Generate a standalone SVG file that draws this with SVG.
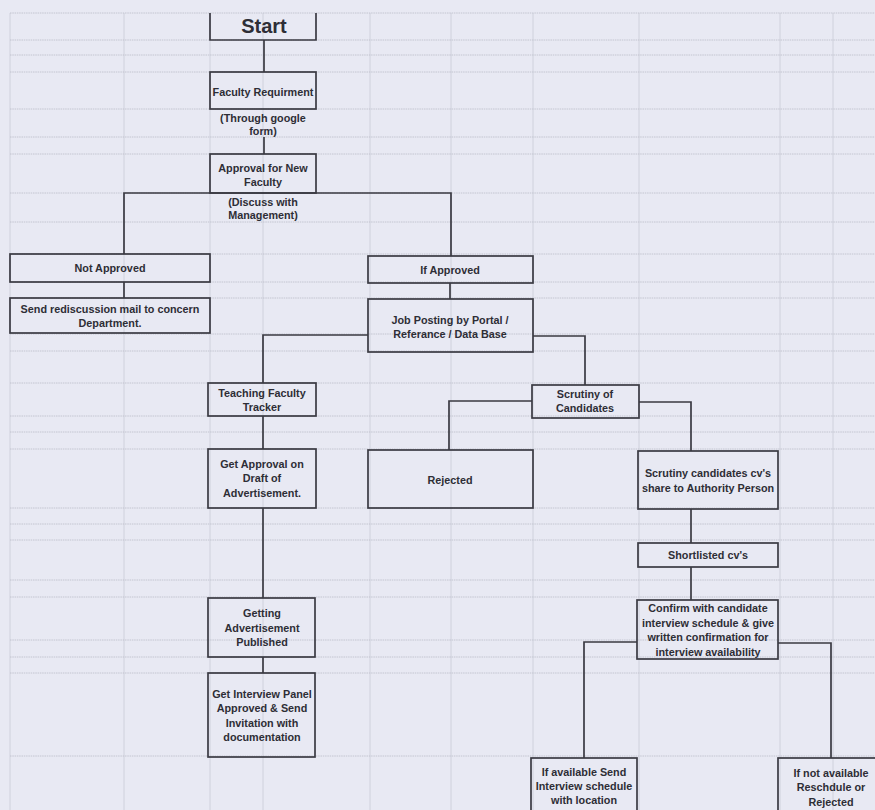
<svg xmlns="http://www.w3.org/2000/svg" width="875" height="810" viewBox="0 0 875 810">
<defs>
<style>
.bg{fill:#e8e9f3}
.gv{stroke:#c9cad5;stroke-width:0.8;fill:none}
.gh{stroke:#c0c1cd;stroke-width:0.9;fill:none;stroke-dasharray:1.5 0.8}
.box{fill:none;stroke:#3a3a42;stroke-width:1.7}
.con{fill:none;stroke:#3a3a42;stroke-width:1.7}
.t{font-family:"Liberation Sans",Arial,sans-serif;font-weight:bold;font-size:10.8px;fill:#2e2e36;text-anchor:middle}
.big{font-size:20px}
</style>
</defs>
<rect class="bg" x="0" y="0" width="875" height="810"/>
<g id="grid">
<path class="gv" d="M10,13V810M124,13V810M210,13V810M263,13V810M370,13V810M451,13V810M533,13V810M639,13V810M780,13V810M833,13V810"/>
<path class="gh" d="M10,13H875M10,40H875M10,55H875M10,72H875M10,109H875M10,137H875M10,154H875M10,193H875M10,222H875M10,254H875M10,282H875M10,298H875M10,334H875M10,351H875M10,383H875M10,416H875M10,432H875M10,449H875M10,508H875M10,524H875M10,540H875M10,580H875M10,597H875M10,640H875M10,657H875M10,673H875M10,756H875"/>
</g>
<g id="connectors">
<path class="con" d="M264,40V72"/>
<path class="con" d="M264,137V154"/>
<path class="con" d="M124,254V193H451V256"/>
<path class="con" d="M124,282V298"/>
<path class="con" d="M450,283V299"/>
<path class="con" d="M368,335H263V383"/>
<path class="con" d="M533,336H585V385"/>
<path class="con" d="M263,416V449"/>
<path class="con" d="M263,508V598"/>
<path class="con" d="M263,657V673"/>
<path class="con" d="M532,401H449V450"/>
<path class="con" d="M639,402H691V451"/>
<path class="con" d="M691,509V543"/>
<path class="con" d="M691,567V600"/>
<path class="con" d="M637,642H584V758"/>
<path class="con" d="M778,643H831V758"/>
</g>
<g id="start">
<path class="box" d="M210,13V40H316V13"/>
<text class="t big" x="264" y="33">Start</text>
</g>
<g id="faculty-requirement">
<rect class="box" x="210" y="72" width="106" height="37"/>
<text class="t" x="263" y="95.5">Faculty Requirment</text>
<text class="t" x="263" y="121.5">(Through google</text>
<text class="t" x="263" y="134.5">form)</text>
</g>
<g id="approval">
<rect class="box" x="210" y="154" width="106" height="39"/>
<text class="t" x="263" y="171.5">Approval for New</text>
<text class="t" x="263" y="185.5">Faculty</text>
<text class="t" x="263" y="205.5">(Discuss with</text>
<text class="t" x="263" y="218.5">Management)</text>
</g>
<g id="not-approved">
<rect class="box" x="10" y="254" width="200" height="28"/>
<text class="t" x="110" y="271.5">Not Approved</text>
</g>
<g id="rediscussion">
<rect class="box" x="10" y="298" width="200" height="35"/>
<text class="t" x="110" y="312.5">Send rediscussion mail to concern</text>
<text class="t" x="110" y="326.5">Department.</text>
</g>
<g id="if-approved">
<rect class="box" x="368" y="256" width="165" height="27"/>
<text class="t" x="450" y="273.5">If Approved</text>
</g>
<g id="job-posting">
<rect class="box" x="368" y="299" width="165" height="53"/>
<text class="t" x="450" y="323.5">Job Posting by Portal /</text>
<text class="t" x="450" y="337.5">Referance / Data Base</text>
</g>
<g id="teaching-tracker">
<rect class="box" x="208" y="383" width="108" height="33"/>
<text class="t" x="262" y="396.5">Teaching Faculty</text>
<text class="t" x="262" y="410.5">Tracker</text>
</g>
<g id="get-approval">
<rect class="box" x="208" y="449" width="108" height="59"/>
<text class="t" x="262" y="467.5">Get Approval on</text>
<text class="t" x="262" y="481.5">Draft of</text>
<text class="t" x="262" y="496.5">Advertisement.</text>
</g>
<g id="getting-published">
<rect class="box" x="208" y="598" width="107" height="59"/>
<text class="t" x="262" y="616.5">Getting</text>
<text class="t" x="262" y="631.5">Advertisement</text>
<text class="t" x="262" y="645.5">Published</text>
</g>
<g id="interview-panel">
<rect class="box" x="208" y="673" width="107" height="84"/>
<text class="t" x="262" y="697.5">Get Interview Panel</text>
<text class="t" x="262" y="711.5">Approved &amp; Send</text>
<text class="t" x="262" y="726.5">Invitation with</text>
<text class="t" x="262" y="740.5">documentation</text>
</g>
<g id="scrutiny">
<rect class="box" x="532" y="385" width="107" height="33"/>
<text class="t" x="585" y="397.5">Scrutiny of</text>
<text class="t" x="585" y="411.5">Candidates</text>
</g>
<g id="rejected">
<rect class="box" x="368" y="450" width="165" height="58"/>
<text class="t" x="450" y="483.5">Rejected</text>
</g>
<g id="scrutiny-cv">
<rect class="box" x="638" y="451" width="140" height="58"/>
<text class="t" x="708" y="476.5">Scrutiny candidates cv's</text>
<text class="t" x="708" y="491.5">share to Authority Person</text>
</g>
<g id="shortlisted">
<rect class="box" x="638" y="543" width="140" height="24"/>
<text class="t" x="708" y="558.5">Shortlisted cv's</text>
</g>
<g id="confirm">
<rect class="box" x="637" y="600" width="141" height="59"/>
<text class="t" x="708" y="611.5">Confirm with candidate</text>
<text class="t" x="708" y="626.5">interview schedule &amp; give</text>
<text class="t" x="708" y="640.5">written confirmation for</text>
<text class="t" x="708" y="655.5">interview availability</text>
</g>
<g id="if-available">
<rect class="box" x="531" y="758" width="106" height="60"/>
<text class="t" x="584" y="775.5">If available Send</text>
<text class="t" x="584" y="789.5">Interview schedule</text>
<text class="t" x="584" y="803.5">with location</text>
</g>
<g id="if-not-available">
<rect class="box" x="778" y="758" width="106" height="60"/>
<text class="t" x="831" y="776.5">If not available</text>
<text class="t" x="831" y="790.5">Reschdule or</text>
<text class="t" x="831" y="805.5">Rejected</text>
</g>
</svg>
